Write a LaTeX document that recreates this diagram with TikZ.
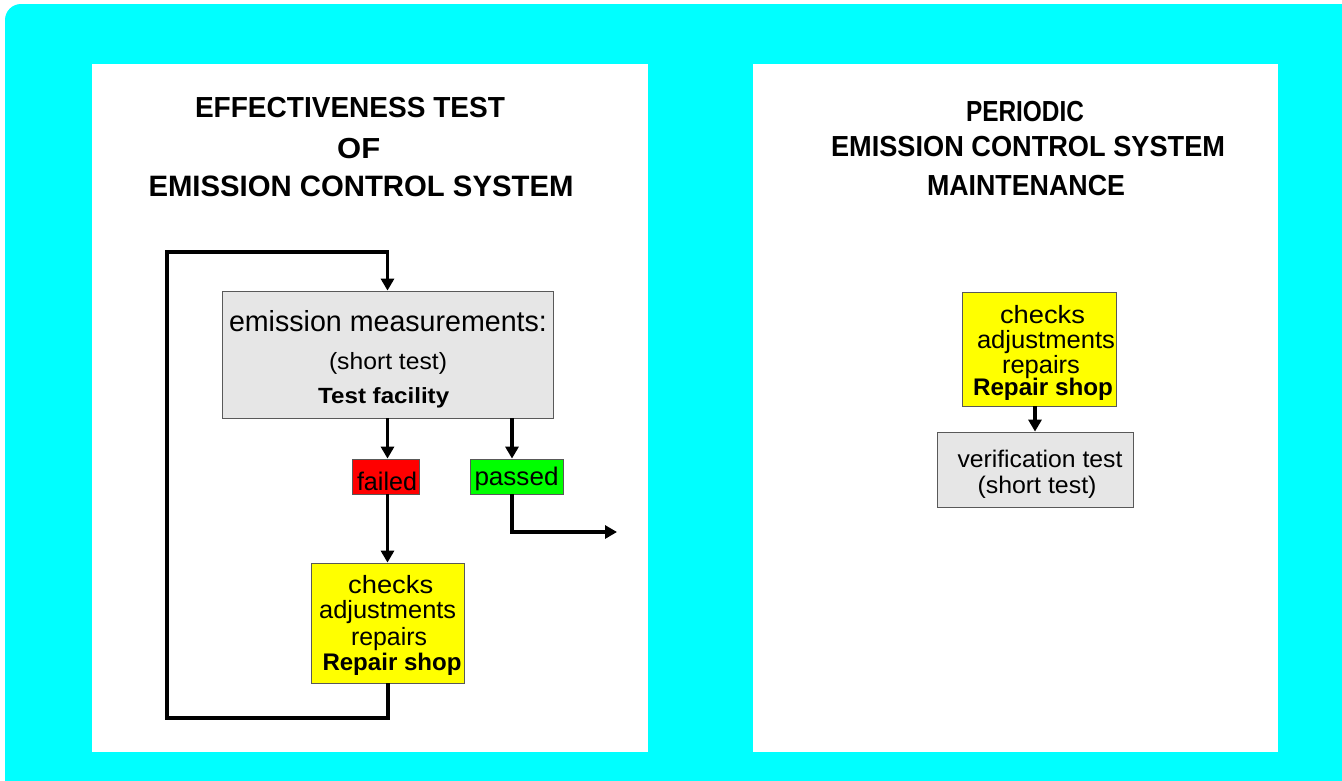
\documentclass[tikz,border=0pt]{standalone}
\usepackage{fontspec}
\usepackage{graphicx}
\setmainfont{Liberation Sans}
\usetikzlibrary{arrows.meta}
\definecolor{cyanbg}{HTML}{00FFFF}
\definecolor{boxgray}{HTML}{E6E6E6}
\definecolor{boxyellow}{HTML}{FFFF00}
\definecolor{boxred}{HTML}{FF0000}
\definecolor{boxgreen}{HTML}{00FF00}
\newsavebox\fitbox
\newcommand\fitw[2]{\sbox\fitbox{#2}\pgfmathsetmacro\fsx{#1/\wd\fitbox}\scalebox{\fsx}[1]{\usebox\fitbox}}
\newcommand\fs[1]{\fontsize{#1}{#1}\selectfont}
\tikzset{
  box/.style={draw=black!65, line width=0.8pt, inner sep=0pt},
  txt/.style={inner sep=0pt, anchor=base},
  arr/.style={line width=3.5pt, -{Triangle[length=12pt,width=13pt]}},
}
\begin{document}
\begin{tikzpicture}[x=1pt,y=-1pt]
\useasboundingbox (0,0) rectangle (1342,780);
\clip (0,0) rectangle (1342,780);
\fill[white] (0,0) rectangle (1342,780);
\fill[cyanbg, rounded corners=16pt] (5,4) rectangle (1380,820);
\fill[white] (92,64) rectangle (648,752);
\fill[white] (753,64) rectangle (1278,752);

% left title
\node[txt] (lt1) at (350,117) {\fitw{310}{\fs{29}\bfseries EFFECTIVENESS TEST}};
\node[txt] (lt2) at (358.7,158) {\fitw{43}{\fs{29}\bfseries OF}};
\node[txt] (lt3) at (361,196) {\fitw{425}{\fs{29.5}\bfseries EMISSION CONTROL SYSTEM}};

% right title
\node[txt] (rt1) at (1025,121) {\fitw{118}{\fs{29}\bfseries PERIODIC}};
\node[txt] (rt2) at (1028,156) {\fitw{394}{\fs{29}\bfseries EMISSION CONTROL SYSTEM}};
\node[txt] (rt3) at (1026,195) {\fitw{198}{\fs{29}\bfseries MAINTENANCE}};

% left boxes
\node[box, fill=boxgray, minimum width=331pt, minimum height=127pt] (meas) at (387.5,354.5) {};
\node[txt] (m1) at (388,331) {\fitw{318}{\fs{29}emission measurements:}};
\node[txt] (m2) at (388,369) {\fitw{118}{\fs{23.5}(short test)}};
\node[txt] (m3) at (383.7,403) {\fitw{131}{\fs{22}\bfseries Test facility}};

\node[box, fill=boxred, minimum width=67pt, minimum height=35pt] (fail) at (385.5,476.5) {};
\node[txt] (ft) at (387,490) {\fitw{60}{\fs{25.5}failed}};
\node[box, fill=boxgreen, minimum width=93pt, minimum height=35pt] (pass) at (516.5,476.5) {};
\node[txt] (pt) at (516.5,485) {\fitw{84}{\fs{25.5}passed}};

\node[box, fill=boxyellow, minimum width=152.5pt, minimum height=120pt] (rep1) at (387.75,623) {};
\node[txt] (r11) at (390.7,593.3) {\fitw{85}{\fs{25}checks}};
\node[txt] (r12) at (387.7,618) {\fitw{137}{\fs{25}adjustments}};
\node[txt] (r13) at (389,645) {\fitw{76}{\fs{25}repairs}};
\node[txt] (r14) at (392,670) {\fitw{139}{\fs{24}\bfseries Repair shop}};

% right boxes
\node[box, fill=boxyellow, minimum width=154pt, minimum height=114pt] (rep2) at (1039,349) {};
\node[txt] (r21) at (1042.5,323) {\fitw{85}{\fs{25}checks}};
\node[txt] (r22) at (1046,348) {\fitw{138}{\fs{25}adjustments}};
\node[txt] (r23) at (1041,373) {\fitw{78}{\fs{25}repairs}};
\node[txt] (r24) at (1043,395) {\fitw{140}{\fs{24}\bfseries Repair shop}};

\node[box, fill=boxgray, minimum width=196pt, minimum height=75pt] (ver) at (1035,469.5) {};
\node[txt] (v1) at (1040,467) {\fitw{165}{\fs{24}verification test}};
\node[txt] (v2) at (1037,493) {\fitw{119}{\fs{24}(short test)}};

% connectors
\coordinate (lb) at (167,718);
\coordinate (ltop) at (167,252);
\coordinate (out) at (617,532);
\draw[arr] (rep1.south) |- (lb) -- (ltop) -| (meas.north);
\draw[arr] (meas.south) -- (meas.south |- fail.north);
\draw[arr] ([xshift=-4.5pt]pass.north |- meas.south) -- ([xshift=-4.5pt]pass.north);
\draw[arr] (meas.south |- fail.south) -- (meas.south |- rep1.north);
\draw[arr] ([xshift=-4.5pt]pass.south) |- (out);
\draw[arr] (ver.north |- rep2.south) -- (ver.north);
\end{tikzpicture}
\end{document}
